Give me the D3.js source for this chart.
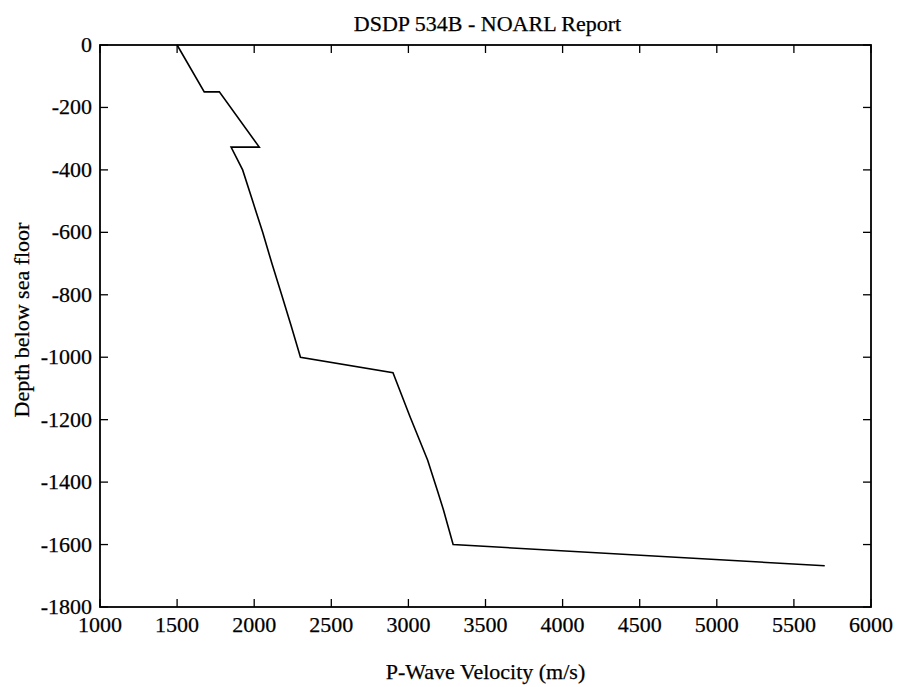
<!DOCTYPE html>
<html lang="en">
<head>
<meta charset="UTF-8">
<title>DSDP 534B - NOARL Report</title>
<script src="https://cdn.jsdelivr.net/npm/d3@7"></script>
<style>
  body { margin: 0; background: #fff; }
  text { font-family: "Liberation Serif", "Times New Roman", serif; fill: #000; stroke: #000; stroke-width: 0.25; }
</style>
</head>
<body>
<div id="grafica"></div>
<script>
// velocity (m/s) and depth (m)
velocity = [1500, 1676, 1774, 2033, 1850, 1925, 1990, 2055, 2115, 2178, 2240, 2300, 2900, 3010, 3125, 3190, 3228, 3262, 3290, 5700]
depth    = [0, -150, -150, -327, -327, -400, -500, -600, -700, -800, -900, -1000, -1050, -1190, -1330, -1430, -1490, -1550, -1600, -1668]
xTicks = [1000, 1500, 2000, 2500, 3000, 3500, 4000, 4500, 5000, 5500, 6000]
yTicks = [0, -200, -400, -600, -800, -1000, -1200, -1400, -1600, -1800]

ancho = 897
alto = 687
m = {left: 100, right: 26, top: 45, bottom: 80}
fs = 22

svg = d3.select('#grafica')
  .append('svg')
  .attr('width', ancho)
  .attr('height', alto)

x = d3.scaleLinear().domain([1000, 6000]).range([m.left, ancho - m.right])
y = d3.scaleLinear().domain([-1800, 0]).range([alto - m.bottom, m.top])

tick = 8
g = svg.append('g')

// ticks on all four sides, pointing in
g.selectAll('.tb').data(xTicks).enter().append('line')
  .attr('x1', d => x(d)).attr('x2', d => x(d))
  .attr('y1', y(-1800)).attr('y2', y(-1800) - tick)
  .attr('stroke', '#000').attr('stroke-width', 1.3)
g.selectAll('.tt').data(xTicks).enter().append('line')
  .attr('x1', d => x(d)).attr('x2', d => x(d))
  .attr('y1', y(0)).attr('y2', y(0) + tick)
  .attr('stroke', '#000').attr('stroke-width', 1.3)
g.selectAll('.tl').data(yTicks).enter().append('line')
  .attr('y1', d => y(d)).attr('y2', d => y(d))
  .attr('x1', x(1000)).attr('x2', x(1000) + tick)
  .attr('stroke', '#000').attr('stroke-width', 1.3)
g.selectAll('.tr').data(yTicks).enter().append('line')
  .attr('y1', d => y(d)).attr('y2', d => y(d))
  .attr('x1', x(6000)).attr('x2', x(6000) - tick)
  .attr('stroke', '#000').attr('stroke-width', 1.3)

// box
svg.append('rect')
  .attr('x', x(1000)).attr('y', y(0))
  .attr('width', x(6000) - x(1000)).attr('height', y(-1800) - y(0))
  .attr('fill', 'none').attr('stroke', '#000').attr('stroke-width', 1.8)

// tick labels
svg.selectAll('.xl').data(xTicks).enter().append('text')
  .attr('x', d => x(d)).attr('y', y(-1800) + 25)
  .attr('text-anchor', 'middle').attr('font-size', fs)
  .text(d => d)
svg.selectAll('.yl').data(yTicks).enter().append('text')
  .attr('x', x(1000) - 8).attr('y', d => y(d) + 7)
  .attr('text-anchor', 'end').attr('font-size', fs)
  .text(d => d)

// profile line
pts = velocity.map((v, i) => [v, depth[i]])
linea = d3.line().x(d => x(d[0])).y(d => y(d[1]))
svg.append('path')
  .attr('d', linea(pts))
  .attr('fill', 'none').attr('stroke', '#000').attr('stroke-width', 1.6)
  .attr('stroke-linejoin', 'miter')

// titles
svg.append('text')
  .attr('x', (x(1000) + x(6000)) / 2 + 2).attr('y', 31)
  .attr('text-anchor', 'middle').attr('font-size', fs)
  .text('DSDP 534B - NOARL Report')
svg.append('text')
  .attr('x', (x(1000) + x(6000)) / 2).attr('y', 679)
  .attr('text-anchor', 'middle').attr('font-size', fs)
  .text('P-Wave Velocity (m/s)')
svg.append('text')
  .attr('transform', 'translate(29,320) rotate(-90)')
  .attr('text-anchor', 'middle').attr('font-size', fs)
  .text('Depth below sea floor')
</script>
</body>
</html>
